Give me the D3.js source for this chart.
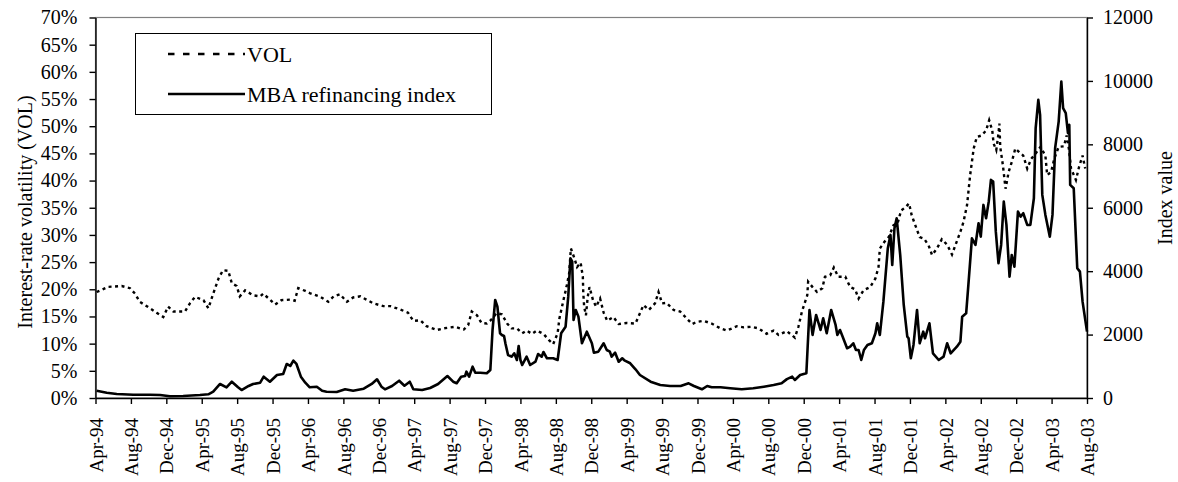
<!DOCTYPE html>
<html>
<head>
<meta charset="utf-8">
<script src="https://cdn.jsdelivr.net/npm/d3@7"></script>
<style>
body { margin: 0; background: #fff; }
svg { display: block; font-family: "Liberation Serif", "Times New Roman", serif; }
</style>
</head>
<body>
<svg id="chart" width="1178" height="482"></svg>
<script>
// category labels, one every 4 months starting Apr-94
var xTickLabels = ['Apr-94','Aug-94','Dec-94','Apr-95','Aug-95','Dec-95','Apr-96','Aug-96','Dec-96',
	'Apr-97','Aug-97','Dec-97','Apr-98','Aug-98','Dec-98','Apr-99','Aug-99','Dec-99','Apr-00','Aug-00',
	'Dec-00','Apr-01','Aug-01','Dec-01','Apr-02','Aug-02','Dec-02','Apr-03','Aug-03'];
var volTicks = [0, 5, 10, 15, 20, 25, 30, 35, 40, 45, 50, 55, 60, 65, 70];
var indexTicks = [0, 2000, 4000, 6000, 8000, 10000, 12000];

// [months after Apr-94, VOL in %]
var vol = [[0.13,19.5],[1.45,20.45],[2.96,20.6],[3.9,20.2],[4.46,19.2],[5.0,17.7],[6.16,16.5],[6.9,15.7],
	[7.66,14.9],[8.2,16.8],[8.8,15.9],[10.1,15.9],[10.7,17.5],[11.25,18.6],[12.2,18.0],[12.75,16.5],[13.3,19.2],
	[13.9,22.0],[14.4,23.5],[15.0,23.4],[15.4,21.1],[15.95,20.6],[16.3,18.7],[16.9,19.8],[17.8,18.9],[18.6,18.7],
	[18.95,19.2],[19.7,18.1],[20.3,17.2],[21.0,18.0],[22.0,18.1],[22.5,17.9],[22.9,20.2],[23.7,19.7],[24.2,19.3],
	[25.4,18.6],[26.3,17.7],[26.9,18.7],[27.6,19.1],[28.4,17.7],[29.1,18.5],[29.9,18.7],[30.6,18.1],[31.4,17.4],
	[32.5,16.9],[33.3,16.9],[34.4,16.3],[35.3,15.7],[35.9,14.2],[36.7,14.3],[37.4,13.2],[38.55,12.5],[39.3,12.8],
	[40.6,13.1],[41.6,12.6],[42.1,13.4],[42.5,15.9],[43.1,15.2],[43.6,13.8],[44.2,13.7],[44.65,14.3],[45.3,15.6],
	[45.9,15.4],[46.5,13.7],[47.0,12.8],[47.6,12.8],[48.2,11.9],[48.7,12.4],[49.3,11.8],[49.85,12.4],[50.6,11.8],
	[51.2,10.7],[51.7,9.9],[52.2,11.9],[52.4,14.6],[52.9,18.3],[53.2,20.4],[53.5,22.9],[53.7,27.5],[54.1,25.7],
	[54.4,24.1],[54.8,24.9],[55.05,22.3],[55.1,19.3],[55.2,16.8],[55.4,15.2],[55.6,18.6],[55.8,20.4],[56.2,18.0],
	[56.55,16.8],[57.0,18.3],[57.4,15.7],[57.8,14.2],[58.5,14.9],[59.1,13.6],[60.0,13.8],[61.0,13.7],[61.5,15.6],
	[61.9,17.1],[62.5,16.2],[63.2,17.4],[63.6,19.5],[64.0,17.4],[64.5,17.5],[65.3,16.2],[66.05,15.9],[66.8,14.6],
	[67.4,13.6],[67.9,14.0],[68.7,14.2],[69.6,13.7],[70.6,12.8],[71.3,12.4],[71.9,12.8],[72.45,13.2],[73.2,13.0],
	[74.1,13.1],[74.9,12.8],[75.8,11.8],[76.6,12.4],[77.15,11.6],[78.1,12.3],[79.0,11.1],[79.4,13.1],[79.8,15.9],
	[80.4,18.9],[80.5,21.4],[81.0,20.4],[81.5,19.5],[82.1,20.2],[82.4,22.3],[83.0,22.6],[83.4,24.0],[83.9,22.3],
	[84.7,22.3],[85.25,20.4],[85.8,20.0],[86.2,18.3],[86.75,19.8],[87.5,20.4],[88.1,22.0],[88.45,24.1],[88.6,27.5],
	[89.1,28.7],[89.6,29.6],[90.15,31.8],[90.6,32.1],[91.0,34.5],[91.5,35.1],[91.9,35.8],[92.2,33.6],[92.6,31.8],
	[93.1,29.6],[93.6,29.3],[94.1,28.1],[94.5,26.3],[95.05,27.5],[95.6,29.2],[96.2,28.2],[96.75,26.4],[97.2,28.4],
	[97.7,30.6],[98.05,32.4],[98.45,35.5],[98.8,41.0],[99.2,45.9],[99.55,48.0],[100.1,48.3],[100.6,49.2],[100.95,51.1],
	[101.3,49.2],[101.45,46.8],[101.75,45.6],[102.0,48.6],[102.1,50.5],[102.2,46.2],[102.5,42.8],[102.8,38.5],
	[103.15,41.6],[103.5,43.4],[103.9,45.9],[104.3,45.3],[104.8,44.6],[105.25,42.2],[105.7,44.0],[106.2,45.0],
	[106.75,46.2],[107.3,44.6],[107.5,41.0],[107.95,41.6],[108.3,44.0],[108.8,46.2],[109.4,46.3],[109.7,48.3],
	[109.95,45.9],[110.2,42.2],[110.75,40.1],[111.1,42.5],[111.5,44.6],[111.8,42.2]];

// [months after Apr-94, MBA refinancing index]
var mba = [[0.13,230],[1.27,167],[2.4,126],[4.27,104],[6.16,104],[7.3,95],[8.4,54],[9.9,63],[11.8,95],[12.75,117],
	[13.3,199],[14.07,442],[14.8,337],[15.4,514],[16.1,337],[16.5,252],[17.3,379],[17.8,442],[18.6,483],[19.0,672],
	[19.7,514],[20.5,726],[21.2,757],[21.6,1073],[22.0,1010],[22.35,1177],[22.7,1073],[23.2,672],[23.7,483],[24.2,337],
	[25.0,357],[25.6,230],[26.1,199],[27.25,189],[28.2,274],[29.1,230],[30.3,293],[31.2,442],[31.8,590],[32.3,357],
	[32.7,274],[33.5,379],[34.3,546],[34.9,388],[35.5,514],[35.9,274],[36.9,252],[37.8,315],[38.7,442],[39.75,694],
	[40.4,514],[40.8,464],[41.3,672],[41.75,694],[41.9,830],[42.2,672],[42.6,988],[42.9,798],[43.45,798],[44.2,779],
	[44.6,883],[44.85,2145],[45.15,3092],[45.4,2880],[45.7,2041],[45.9,1988],[46.15,1956],[46.3,1726],[46.6,1357],
	[47.0,1303],[47.3,1410],[47.6,1199],[47.8,1641],[48.0,1199],[48.2,1041],[48.7,1303],[49.1,1041],[49.7,1145],
	[50.0,1388],[50.4,1303],[50.6,1451],[51.0,1252],[51.7,1252],[52.2,1199],[52.6,2041],[53.1,2250],[53.4,3196],
	[53.65,4407],[53.85,4300],[54.0,2461],[54.25,2776],[54.55,2566],[54.95,1726],[55.5,2092],[56.07,1726],[56.3,1430],
	[56.8,1461],[57.4,1726],[57.75,1514],[58.1,1461],[58.3,1303],[58.7,1430],[59.1,1145],[59.5,1252],[59.8,1177],
	[60.4,1095],[61.0,906],[61.5,726],[62.7,514],[63.8,410],[64.9,379],[66.1,379],[67.0,464],[67.6,379],[68.5,274],
	[69.1,379],[69.6,337],[70.6,337],[71.7,306],[73.0,274],[74.3,306],[75.5,357],[76.6,410],[77.5,464],[78.1,595],
	[78.7,672],[79.0,568],[79.6,726],[80.3,779],[80.65,2776],[81.0,1988],[81.4,2619],[81.9,2145],[82.2,2514],
	[82.6,2041],[83.1,2776],[83.6,2303],[83.8,1988],[84.1,2145],[84.4,1934],[84.9,1568],[85.25,1619],[85.6,1726],
	[85.9,1514],[86.2,1514],[86.5,1199],[86.8,1514],[87.2,1672],[87.7,1726],[88.1,2041],[88.3,2357],[88.6,1988],
	[89.0,3038],[89.5,4723],[89.8,5143],[90.0,4196],[90.25,5354],[90.5,5670],[90.9,4512],[91.3,2934],[91.7,1934],
	[91.85,1883],[92.1,1252],[92.4,1672],[92.8,2776],[93.1,1726],[93.5,2092],[93.7,1883],[94.2,2357],[94.6,1410],
	[95.25,1199],[95.8,1303],[96.2,1726],[96.6,1410],[97.3,1619],[97.7,1776],[97.9,2566],[98.35,2672],[98.6,3565],
	[99.0,5038],[99.4,4827],[99.75,5512],[100.0,5089],[100.3,6089],[100.6,5670],[100.9,6193],[101.15,6878],
	[101.4,6824],[101.7,5247],[102.0,4250],[102.3,4827],[102.6,6193],[102.9,5458],[103.25,3827],[103.5,4512],
	[103.8,4143],[104.2,5878],[104.5,5720],[104.8,5827],[105.25,5458],[105.6,5458],[106.0,6300],[106.2,8509],
	[106.5,9402],[106.7,8929],[106.95,6405],[107.3,5774],[107.8,5089],[108.1,5774],[108.4,7878],[108.8,8717],
	[109.1,9979],[109.3,9140],[109.6,8982],[109.85,8351],[110.0,8613],[110.1,6720],[110.5,6616],[110.9,4092],
	[111.2,3985],[111.5,3038],[112.0,2092]];

var svg = d3.select('#chart');
// "top" is a reserved window property, so use plot* names
var plotLeft = 95.5, plotRight = 1087, plotTop = 17.5, plotBottom = 398;

var x = d3.scaleLinear().domain([0, (xTickLabels.length - 1) * 4]).range([plotLeft, plotRight]);
var yL = d3.scaleLinear().domain([0, 70]).range([plotBottom, plotTop]);
var yR = d3.scaleLinear().domain([0, 12000]).range([plotBottom, plotTop]);

svg.append('rect').attr('width', 1178).attr('height', 482).attr('fill', '#fff');

// plot area border (grey), axes are drawn over it
svg.append('rect')
	.attr('x', plotLeft).attr('y', plotTop)
	.attr('width', plotRight - plotLeft).attr('height', plotBottom - plotTop)
	.attr('fill', 'none').attr('stroke', '#808080').attr('stroke-width', 1.2);

var volLine = d3.line().x(function (d) { return x(d[0]); }).y(function (d) { return yL(d[1]); });
var mbaLine = d3.line().x(function (d) { return x(d[0]); }).y(function (d) { return yR(d[1]); });

svg.append('path').datum(mba)
	.attr('d', mbaLine)
	.attr('fill', 'none').attr('stroke', '#000').attr('stroke-width', 2.6)
	.attr('stroke-linejoin', 'round');

svg.append('path').datum(vol)
	.attr('d', volLine)
	.attr('fill', 'none').attr('stroke', '#000').attr('stroke-width', 2.4)
	.attr('stroke-dasharray', '3,3.5');

// axes
var styleAxis = function (g) {
	g.selectAll('path, line').attr('stroke', '#000').attr('stroke-width', 1.4);
	g.selectAll('text').attr('fill', '#000').style('font-size', '20px')
		.style('font-family', '"Liberation Serif", "Times New Roman", serif');
};

svg.append('g')
	.attr('transform', 'translate(' + plotLeft + ',0)')
	.call(d3.axisLeft(yL).tickValues(volTicks).tickSize(6).tickSizeOuter(0).tickPadding(12)
		.tickFormat(function (d) { return d + '%'; }))
	.call(styleAxis);

svg.append('g')
	.attr('transform', 'translate(' + plotRight + ',0)')
	.call(d3.axisRight(yR).tickValues(indexTicks).tickSize(6).tickSizeOuter(0).tickPadding(10)
		.tickFormat(d3.format('d')))
	.call(styleAxis);

var xAxis = svg.append('g')
	.attr('transform', 'translate(0,' + plotBottom + ')')
	.call(d3.axisBottom(x)
		.tickValues(xTickLabels.map(function (l, i) { return i * 4; }))
		.tickSize(6).tickSizeOuter(0)
		.tickFormat(function (d) { return xTickLabels[d / 4]; }))
	.call(styleAxis);
xAxis.selectAll('text')
	.style('font-size', '19px')
	.attr('transform', 'rotate(-90)')
	.attr('x', -20).attr('y', 0).attr('dy', '0.35em')
	.style('text-anchor', 'end');

// axis titles
svg.append('text')
	.attr('transform', 'translate(25,212) rotate(-90)')
	.attr('text-anchor', 'middle').attr('dy', '0.35em')
	.style('font-size', '20px')
	.text('Interest-rate volatility (VOL)');

svg.append('text')
	.attr('transform', 'translate(1165,198) rotate(-90)')
	.attr('text-anchor', 'middle').attr('dy', '0.35em')
	.style('font-size', '20px')
	.text('Index value');

// legend
var legend = svg.append('g');
legend.append('rect')
	.attr('x', 135.5).attr('y', 33.5).attr('width', 356).attr('height', 81)
	.attr('fill', '#fff').attr('stroke', '#000').attr('stroke-width', 1);
var legendItems = [
	{ label: 'VOL', y: 54, dash: '6.5,8.5', width: 2.6 },
	{ label: 'MBA refinancing index', y: 94, dash: null, width: 2.6 }
];
legendItems.forEach(function (it) {
	legend.append('line')
		.attr('x1', 168).attr('x2', 245).attr('y1', it.y).attr('y2', it.y)
		.attr('stroke', '#000').attr('stroke-width', it.width)
		.attr('stroke-dasharray', it.dash);
	legend.append('text')
		.attr('x', 247).attr('y', it.y).attr('dy', '0.35em')
		.style('font-size', '22px')
		.text(it.label);
});
</script>
</body>
</html>
